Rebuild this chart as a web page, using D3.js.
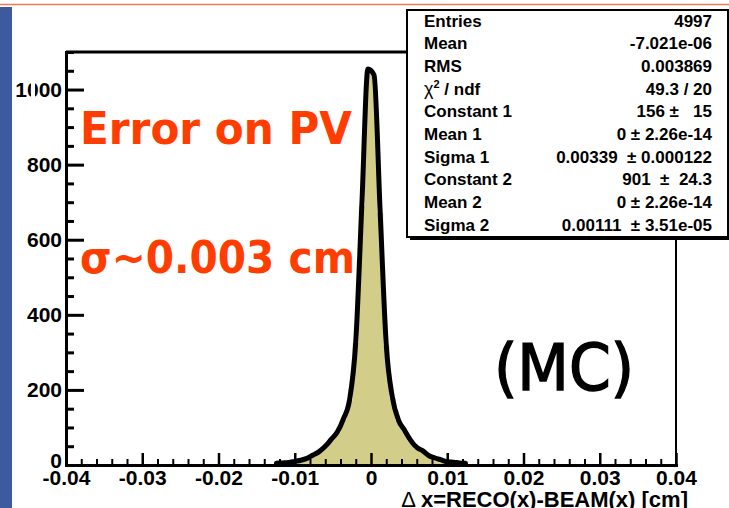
<!DOCTYPE html>
<html>
<head>
<meta charset="utf-8">
<script src="https://cdn.jsdelivr.net/npm/d3@7"></script>
<style>
body { margin: 0; background: #fff; }
svg { display: block; }
</style>
</head>
<body>
<script>
// histogram: 100 bins from -0.04 to 0.04, counts
const histRange = [-0.04, 0.04];
const counts = [
	0, 0, 0, 0, 0, 0, 0, 0, 0, 0,
	0, 0, 0, 0, 0, 0, 0, 0, 1, 0,
	0, 0, 0, 0, 1, 0, 0, 1, 0, 1,
	0, 1, 1, 2, 2, 3, 4, 7, 10, 15,
	24, 33, 47, 66, 86, 121, 172, 325, 690, 1052,
	1036, 672, 318, 178, 117, 90, 63, 44, 35, 22,
	16, 11, 6, 5, 3, 2, 1, 2, 1, 0,
	1, 0, 0, 0, 0, 1, 0, 0, 0, 0,
	0, 0, 0, 1, 0, 0, 0, 0, 0, 0,
	0, 0, 0, 0, 0, 0, 0, 0, 0, 0
];

const xTickValues = [-0.04, -0.03, -0.02, -0.01, 0, 0.01, 0.02, 0.03, 0.04];
const xTickLabels = ['-0.04', '-0.03', '-0.02', '-0.01', '0', '0.01', '0.02', '0.03', '0.04'];
const yTickValues = [0, 200, 400, 600, 800, 1000];
const yMax = 1100;

const statNames = ['Entries', 'Mean', 'RMS', 'chi2', 'Constant 1', 'Mean 1', 'Sigma 1', 'Constant 2', 'Mean 2', 'Sigma 2'];
const statValues = ['4997', '-7.021e-06', '0.003869', '49.3 / 20', '156 \u00b1   15', '0 \u00b1 2.26e-14',
	'0.00339  \u00b1 0.000122', '901  \u00b1  24.3', '0 \u00b1 2.26e-14', '0.00111  \u00b1 3.51e-05'];

const xTitle = 'x=RECO(x)-BEAM(x) [cm]';
const notes = ['Error on PV', '\u03c3~0.003 cm'];
const mcLabel = '(MC)';

const W = 729, H = 508;
const frame = { left: 66, right: 676, top: 52, bottom: 465 };
const axisFont = "'Liberation Sans', Arial, sans-serif";
const handFont = "'Comic Sans MS', 'DejaVu Sans', sans-serif";

let svg = d3.select('body')
	.append('svg')
	.attr('width', W)
	.attr('height', H);

// slide decoration
svg.append('rect')
	.attr('x', 0).attr('y', 7)
	.attr('width', 12).attr('height', H - 7)
	.attr('fill', '#3e5a9f');
svg.append('line')
	.attr('x1', 0).attr('x2', W)
	.attr('y1', 4.5).attr('y2', 4.5)
	.attr('stroke', '#f07858')
	.attr('stroke-width', 1.5);

let xScale = d3.scaleLinear().domain(histRange).range([frame.left, frame.right]);
let yScale = d3.scaleLinear().domain([0, yMax]).range([frame.bottom, frame.top]);

let binW = (histRange[1] - histRange[0]) / counts.length;
let bins = counts.map((n, i) => ({ x0: histRange[0] + i * binW, x1: histRange[0] + (i + 1) * binW, n: n }));

// filled histogram
svg.append('path')
	.datum(bins.concat([{ x0: histRange[1], n: counts[counts.length - 1] }]))
	.attr('d', d3.area()
		.x(d => xScale(d.x0))
		.y0(yScale(0))
		.y1(d => yScale(d.n))
		.curve(d3.curveStepAfter))
	.attr('fill', '#d3cd8a');

// thick outline through the bin centres
svg.append('path')
	.datum(bins.filter((d, i) => i >= 34 && i <= 65))
	.attr('d', d3.line()
		.x(d => xScale((d.x0 + d.x1) / 2))
		.y(d => yScale(d.n) - 1)
		.curve(d3.curveMonotoneX))
	.attr('fill', 'none')
	.attr('stroke', '#000')
	.attr('stroke-width', 5)
	.attr('stroke-linejoin', 'round')
	.attr('stroke-linecap', 'round');

// frame top and right
svg.append('line')
	.attr('x1', frame.left).attr('x2', 408)
	.attr('y1', frame.top).attr('y2', frame.top)
	.attr('stroke', '#000').attr('stroke-width', 3);
svg.append('line')
	.attr('x1', frame.right).attr('x2', frame.right)
	.attr('y1', frame.top).attr('y2', frame.bottom)
	.attr('stroke', '#000').attr('stroke-width', 2);

// x axis
let xMinor = d3.range(-20, 21).filter(k => k % 5 !== 0).map(k => k * 0.002);
svg.append('g')
	.attr('transform', `translate(0, ${frame.bottom})`)
	.call(d3.axisBottom(xScale).tickValues(xMinor).tickSize(-6).tickSizeOuter(0).tickFormat(''))
	.call(g => g.select('.domain').remove())
	.selectAll('line').attr('stroke-width', 2);

let xAxis = svg.append('g')
	.attr('transform', `translate(0, ${frame.bottom})`)
	.call(d3.axisBottom(xScale)
		.tickValues(xTickValues)
		.tickFormat((d, i) => xTickLabels[i])
		.tickSize(-12)
		.tickSizeOuter(0)
		.tickPadding(5))
	.attr('font-family', axisFont)
	.attr('font-size', 21)
	.attr('font-weight', 'bold');
xAxis.select('.domain').attr('stroke-width', 3).attr('stroke-linecap', 'square');
xAxis.selectAll('.tick line').attr('stroke-width', 2.5);
xAxis.selectAll('text').attr('fill', '#000');

// y axis
let yMinor = d3.range(1, 23).filter(k => k % 4 !== 0).map(k => k * 50);
svg.append('g')
	.attr('transform', `translate(${frame.left}, 0)`)
	.call(d3.axisLeft(yScale).tickValues(yMinor).tickSize(-8).tickSizeOuter(0).tickFormat(''))
	.call(g => g.select('.domain').remove())
	.selectAll('line').attr('stroke-width', 3);

let yAxis = svg.append('g')
	.attr('transform', `translate(${frame.left}, 0)`)
	.call(d3.axisLeft(yScale)
		.tickValues(yTickValues)
		.tickFormat(d3.format('d'))
		.tickSize(-18)
		.tickSizeOuter(0)
		.tickPadding(4))
	.attr('font-family', axisFont)
	.attr('font-size', 21)
	.attr('font-weight', 'bold');
yAxis.select('.domain').attr('stroke-width', 3).attr('stroke-linecap', 'square');
yAxis.selectAll('.tick line').attr('stroke-width', 3);
yAxis.selectAll('text').attr('fill', '#000');
yAxis.selectAll('.tick').filter(d => d === 0).select('text').attr('dy', '0.12em');

// scanning artefact eating part of the "1000" label
svg.append('rect')
	.attr('x', 31).attr('y', yScale(1000) - 10)
	.attr('width', 4).attr('height', 20)
	.attr('fill', '#fff');

// x axis title
let title = svg.append('text')
	.attr('x', 688)
	.attr('y', 507)
	.attr('text-anchor', 'end')
	.attr('font-family', axisFont)
	.attr('font-size', 22)
	.attr('font-weight', 'bold');
title.append('tspan').attr('font-weight', 'normal').text('\u0394 ');
title.append('tspan').text(xTitle);

// stats box
let box = { x: 407, y: 10, w: 321, h: 227 };
svg.append('rect')
	.attr('x', box.x + 3).attr('y', box.y + 3)
	.attr('width', box.w).attr('height', box.h)
	.attr('fill', '#000');
svg.append('rect')
	.attr('x', box.x).attr('y', box.y)
	.attr('width', box.w).attr('height', box.h)
	.attr('fill', '#fff')
	.attr('stroke', '#000')
	.attr('stroke-width', 2);

let rowY = i => 26.5 + i * 22.7;
let stats = svg.append('g')
	.attr('font-family', axisFont)
	.attr('font-size', 17)
	.attr('font-weight', 'bold');

statNames.forEach((name, i) => {
	let t = stats.append('text').attr('x', 424).attr('y', rowY(i));
	if (name === 'chi2') {
		t.append('tspan').attr('font-weight', 'normal').attr('font-size', 18).text('\u03c7');
		t.append('tspan').attr('font-size', 11).attr('dy', -7).text('2');
		t.append('tspan').attr('dy', 7).text(' / ndf');
	} else {
		t.text(name);
	}
});
stats.selectAll('.val')
	.data(statValues)
	.enter()
	.append('text')
	.attr('class', 'val')
	.attr('x', 712)
	.attr('y', (d, i) => rowY(i))
	.attr('text-anchor', 'end')
	.attr('xml:space', 'preserve')
	.style('white-space', 'pre')
	.text(d => d);

// hand written notes
svg.selectAll('.note')
	.data(notes)
	.enter()
	.append('text')
	.attr('class', 'note')
	.attr('x', 80)
	.attr('y', (d, i) => [144, 273][i])
	.attr('textLength', (d, i) => [272, 275][i])
	.attr('lengthAdjust', 'spacingAndGlyphs')
	.attr('font-family', handFont)
	.attr('font-size', 44)
	.attr('font-weight', 'bold')
	.attr('fill', '#ff3d00')
	.text(d => d);

svg.append('text')
	.attr('x', 494)
	.attr('y', 390)
	.attr('textLength', 140)
	.attr('lengthAdjust', 'spacingAndGlyphs')
	.attr('font-family', handFont)
	.attr('font-size', 64)
	.attr('fill', '#000')
	.attr('stroke', '#000')
	.attr('stroke-width', 1.5)
	.text(mcLabel);
</script>
</body>
</html>
